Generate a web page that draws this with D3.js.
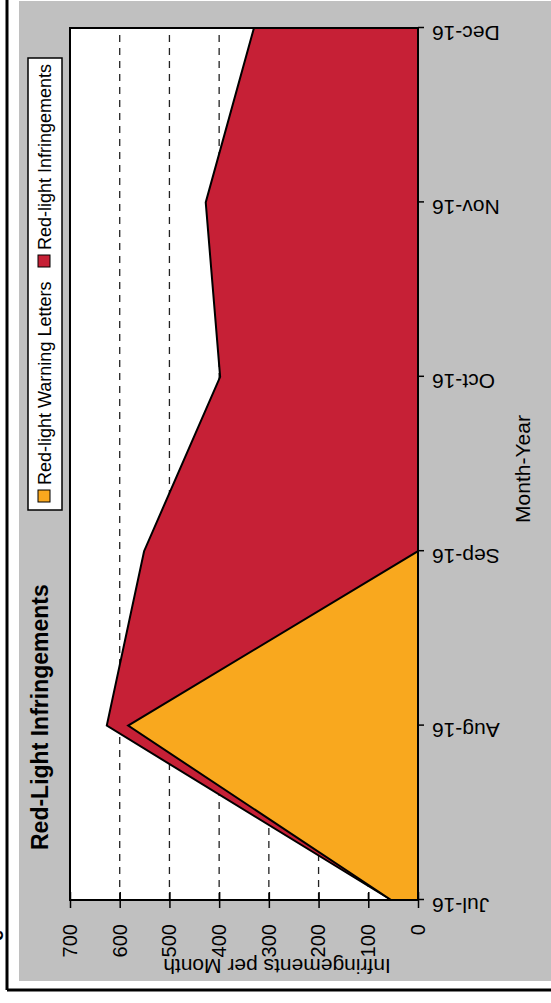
<!DOCTYPE html>
<html>
<head>
<meta charset="utf-8">
<script src="https://cdn.jsdelivr.net/npm/d3@7"></script>
<style>
  body { margin: 0; background: #fff; }
  svg { display: block; font-family: "Liberation Sans", Arial, sans-serif; }
</style>
</head>
<body>
<svg id="chart" width="551" height="1003"></svg>
<script>
// chart values
let months = ["Jul-16", "Aug-16", "Sep-16", "Oct-16", "Nov-16", "Dec-16"];
let infringements = [54, 626, 551, 398, 427, 330];
let warningLetters = [54, 583, 0, 0, 0, 0];
let valueTicks = [0, 100, 200, 300, 400, 500, 600, 700];
let gridValues = [100, 200, 300, 400, 500, 600];
let seriesNames = ["Red-light Warning Letters", "Red-light Infringements"];

let colors = {
    "Red-light Warning Letters": "#F9A81E",
    "Red-light Infringements": "#C62036"
};

// the picture is a landscape chart turned a quarter turn counter-clockwise,
// so everything is drawn in the landscape frame and then rotated
let W = 1003, H = 551;
let svg = d3.select("#chart");
let g = svg.append("g")
    .attr("transform", "translate(0," + W + ") rotate(-90)");

// outer frame
g.append("rect")
    .attr("x", 0).attr("y", 0).attr("width", W).attr("height", H)
    .attr("fill", "#fff");
g.append("line")
    .attr("x1", 13).attr("x2", W).attr("y1", 7).attr("y2", 7)
    .attr("stroke", "#000").attr("stroke-width", 3);
g.append("line")
    .attr("x1", 13).attr("x2", 13).attr("y1", 7).attr("y2", H)
    .attr("stroke", "#000").attr("stroke-width", 3);
g.append("rect")
    .attr("x", 22).attr("y", 19).attr("width", 980).attr("height", H)
    .attr("fill", "#C0C0C0");

// cut-off glyph left over at the page edge
g.append("text")
    .attr("x", 62).attr("y", 3)
    .style("font-size", "20px")
    .style("font-weight", "bold")
    .text("e");

let plotLeft = 103, plotRight = 975, plotTop = 70, plotBottom = 418;

let xScale = d3.scalePoint()
    .domain(months)
    .range([plotLeft, plotRight]);

let yScale = d3.scaleLinear()
    .domain([0, 700])
    .range([plotBottom, plotTop]);

// plot background
g.append("rect")
    .attr("x", plotLeft).attr("y", plotTop)
    .attr("width", plotRight - plotLeft).attr("height", plotBottom - plotTop)
    .attr("fill", "#fff");

// dashed grid lines
g.selectAll(".grid")
    .data(gridValues)
    .enter()
    .append("line")
    .attr("x1", plotLeft)
    .attr("x2", plotRight)
    .attr("y1", d => yScale(d))
    .attr("y2", d => yScale(d))
    .attr("stroke", "#222")
    .attr("stroke-width", 1.3)
    .style("stroke-dasharray", "7 6");

// areas, infringements behind warning letters
let area = d3.area()
    .x((d, i) => xScale(months[i]))
    .y0(yScale(0))
    .y1(d => yScale(d));

g.append("path")
    .datum(infringements)
    .attr("d", area)
    .attr("fill", colors["Red-light Infringements"])
    .attr("stroke", "#000")
    .attr("stroke-width", 2)
    .attr("stroke-linejoin", "miter");

g.append("path")
    .datum(warningLetters)
    .attr("d", area)
    .attr("fill", colors["Red-light Warning Letters"])
    .attr("stroke", "#000")
    .attr("stroke-width", 2)
    .attr("stroke-linejoin", "miter");

// plot border
g.append("rect")
    .attr("x", plotLeft).attr("y", plotTop)
    .attr("width", plotRight - plotLeft).attr("height", plotBottom - plotTop)
    .attr("fill", "none")
    .attr("stroke", "#000")
    .attr("stroke-width", 2);

// value axis (cross ticks)
let yAxis = g.append("g")
    .attr("transform", "translate(" + plotLeft + ",0)")
    .call(d3.axisLeft(yScale).tickValues(valueTicks).tickSize(8).tickPadding(16));
yAxis.select(".domain").remove();
yAxis.selectAll("line")
    .attr("x1", 8)
    .attr("stroke", "#000")
    .attr("stroke-width", 1.5);
yAxis.selectAll("text")
    .style("font-family", "Liberation Sans, Arial, sans-serif")
    .style("font-size", "20px")
    .attr("fill", "#000");

// month axis
let xAxis = g.append("g")
    .attr("transform", "translate(0," + plotBottom + ")")
    .call(d3.axisBottom(xScale).tickSize(6).tickPadding(0));
xAxis.select(".domain").remove();
xAxis.selectAll("line")
    .attr("stroke", "#000")
    .attr("stroke-width", 1.5);
xAxis.selectAll("text")
    .attr("y", null)
    .attr("dy", "0.35em")
    .attr("transform", "translate(-5.5,14) rotate(-90)")
    .style("text-anchor", "end")
    .style("font-family", "Liberation Sans, Arial, sans-serif")
    .style("font-size", "21px")
    .attr("fill", "#000");

// axis titles
g.append("text")
    .attr("x", 534)
    .attr("y", 530)
    .attr("text-anchor", "middle")
    .style("font-size", "21px")
    .text("Month-Year");

g.append("text")
    .attr("transform", "translate(44,277) rotate(-90)")
    .attr("text-anchor", "middle")
    .style("font-size", "21px")
    .text("Infringements per Month");

// chart title
g.append("text")
    .attr("x", 153)
    .attr("y", 48)
    .style("font-size", "23px")
    .style("font-weight", "bold")
    .text("Red-Light Infringements");

// legend
g.append("rect")
    .attr("x", 493).attr("y", 28).attr("width", 452).attr("height", 34)
    .attr("fill", "#fff")
    .attr("stroke", "#000")
    .attr("stroke-width", 1.5);

let legendX = [501, 736];
seriesNames.forEach(function(name, i) {
    g.append("rect")
        .attr("x", legendX[i]).attr("y", 38).attr("width", 12).attr("height", 12)
        .attr("fill", colors[name])
        .attr("stroke", "#000")
        .attr("stroke-width", 1);
    g.append("text")
        .attr("x", legendX[i] + 17)
        .attr("y", 51)
        .style("font-size", "18px")
        .text(name);
});
</script>
</body>
</html>
